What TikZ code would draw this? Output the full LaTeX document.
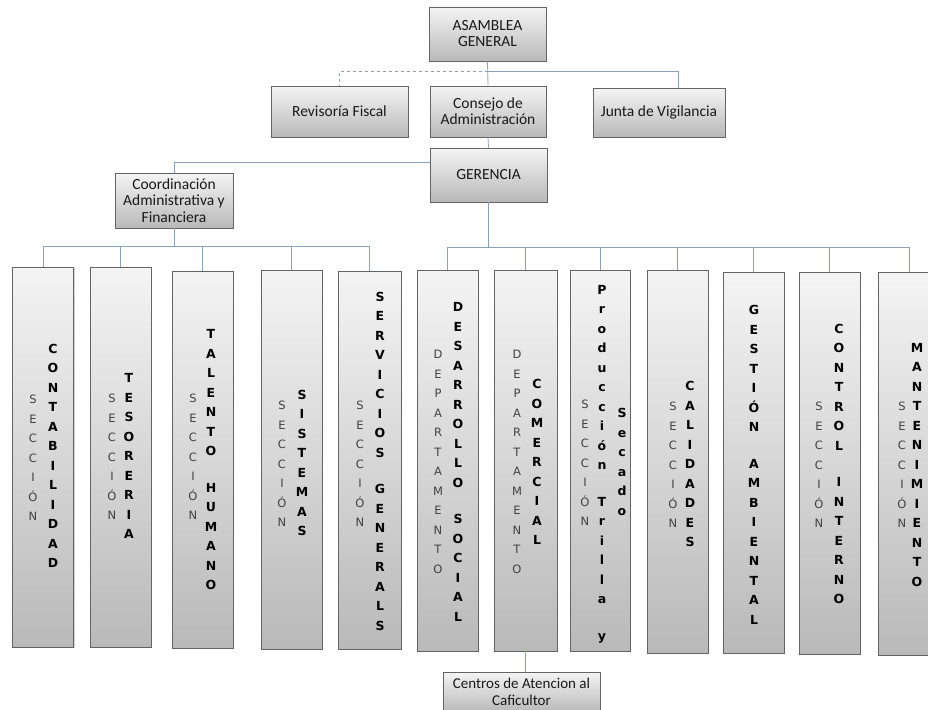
\documentclass[tikz,border=0pt]{standalone}
\usepackage{fontspec}
\setmainfont{Carlito}
\newfontfamily\stackfont{DejaVu Sans}
\usetikzlibrary{shadows}

\definecolor{linkc}{RGB}{140,160,182}
\definecolor{boxedge}{RGB}{100,100,100}
\definecolor{boxtop}{RGB}{244,244,244}
\definecolor{boxbot}{RGB}{185,185,185}
\definecolor{secgray}{RGB}{65,65,65}

% stacked words, one letter per line
\newcommand\secstack{S\\E\\C\\C\\I\\Ó\\N}
\newcommand\depstack{D\\E\\P\\A\\R\\T\\A\\M\\E\\N\\T\\O}
\newcommand\gapline{\\[17pt]}

\begin{document}
\begin{tikzpicture}[x=1pt,y=-1pt,
  link/.style={draw=linkc, line width=0.8pt},
  unitbox/.style={draw=boxedge, line width=0.9pt, top color=boxtop, bottom color=boxbot,
    drop shadow={shadow xshift=1.2pt, shadow yshift=-1.2pt, opacity=0.35},
    inner sep=1pt, align=center, text=black!90, font=\fontsize{15.5}{16}\selectfont},
  tallbox/.style={unitbox, minimum width=61pt},
  secstack/.style={align=center, inner sep=0pt, text=secgray,
    font=\stackfont\fontsize{11.5}{19.5}\selectfont},
  namestack/.style={align=center, inner sep=0pt, text=black,
    font=\stackfont\bfseries\fontsize{12.5}{19.5}\selectfont},
]
\useasboundingbox (0,0) rectangle (928,709);
\fill[white] (0,0) rectangle (928,709);
\clip (0,0) rectangle (928,709);

% ---- upper levels
\node[unitbox, minimum width=117pt, minimum height=54pt] (asm) at (487.5,34) {ASAMBLEA\\GENERAL};
\node[unitbox, minimum width=137pt, minimum height=51pt] (rev) at (339.5,111.5) {Revisoría Fiscal};
\node[unitbox, minimum width=116pt, minimum height=51pt] (cons) at (488,111.5) {Consejo de\\Administración};
\node[unitbox, minimum width=132pt, minimum height=49pt] (junta) at (659,112.5) {Junta de Vigilancia};
\node[unitbox, minimum width=117pt, minimum height=54pt] (ger) at (488.5,175) {GERENCIA};
\node[unitbox, minimum width=118pt, minimum height=55pt, font=\fontsize{15.5}{16.5}\selectfont] (coord) at (174,200.5) {Coordinación\\Administrativa y\\Financiera};

% ---- sections and departments
\node[tallbox, minimum height=380pt] (s1) at (43,457) {};
\node[tallbox, minimum height=380pt] (s2) at (120.5,457) {};
\node[tallbox, minimum height=377pt] (s3) at (202.5,459.5) {};
\node[tallbox, minimum height=379pt] (s4) at (291.5,459.5) {};
\node[tallbox, minimum width=63pt, minimum height=378pt] (s5) at (369.5,460) {};
\node[tallbox, minimum height=381pt] (s6) at (447.5,460.5) {};
\node[tallbox, minimum width=63pt, minimum height=381pt] (s7) at (525.5,460.5) {};
\node[tallbox, minimum width=60pt, minimum height=381pt] (s8) at (600,460.5) {};
\node[tallbox, minimum height=383pt] (s9) at (677.5,461.5) {};
\node[tallbox, minimum height=381pt] (s10) at (753.5,462.5) {};
\node[tallbox, minimum height=382pt] (s11) at (829.5,463) {};
\node[tallbox, minimum width=62pt, minimum height=383pt] (s12) at (909,463.5) {};

\node[unitbox, minimum width=157pt, minimum height=40pt, font=\fontsize{15}{17}\selectfont] (cent) at (521.5,692) {Centros de Atencion al\\Caficultor};

% ---- connectors
\coordinate (topbus) at (488,71);
\coordinate (jdrop) at ([xshift=19pt]junta.north);
\draw[link] (asm.south) -- (cons.north);
\draw[link, dashed] (topbus) -- (rev.north |- topbus) -- (rev.north);
\draw[link] (topbus) -- (jdrop |- topbus) -- (jdrop);
\draw[link] (cons.south) -- (ger.north);
\draw[link] ([yshift=13pt]ger.west) -| (coord.north);

\coordinate (lbus) at (175,246);
\draw[link] (coord.south) -- (coord.south |- lbus);
\draw[link] (s1.north) |- (s5.north |- lbus) -- (s5.north);
\foreach \s in {s2,s3,s4} \draw[link] (\s.north) -- (\s.north |- lbus);

\coordinate (rbus) at (489,247);
\draw[link] (ger.south) -- (ger.south |- rbus);
\draw[link] (s6.north) |- (s12.north |- rbus) -- (s12.north);
\foreach \s in {s7,s8,s9,s10,s11} \draw[link] (\s.north) -- (\s.north |- rbus);

\draw[link] (s7.south) -- (s7.south |- cent.north);

% ---- stacked labels
\node[secstack] (l1a) at (33,458) {\secstack};
\node[namestack] (l1b) at (53,456) {C\\O\\N\\T\\A\\B\\I\\L\\I\\D\\A\\D};

\node[secstack] (l2a) at (112,457) {\secstack};
\node[namestack] (l2b) at (129,456) {T\\E\\S\\O\\R\\E\\R\\I\\A};

\node[secstack] (l3a) at (193,457) {\secstack};
\node[namestack] (l3b) at (211,460) {T\\A\\L\\E\\N\\T\\O\gapline H\\U\\M\\A\\N\\O};

\node[secstack] (l4a) at (282,464) {\secstack};
\node[namestack] (l4b) at (302,463) {S\\I\\S\\T\\E\\M\\A\\S};

\node[secstack] (l5a) at (360,464) {\secstack};
\node[namestack] (l5b) at (380,461) {S\\E\\R\\V\\I\\C\\I\\O\\S\gapline G\\E\\N\\E\\R\\A\\L\\S};

\node[secstack] (l6a) at (438,462) {\depstack};
\node[namestack] (l6b) at (458,462) {D\\E\\S\\A\\R\\R\\O\\L\\L\\O\gapline S\\O\\C\\I\\A\\L};

\node[secstack] (l7a) at (517,462) {\depstack};
\node[namestack] (l7b) at (537,462) {C\\O\\M\\E\\R\\C\\I\\A\\L};

\node[secstack] (l8a) at (585,463) {\secstack};
\node[namestack] (l8b) at (602,464) {P\\r\\o\\d\\u\\c\\c\\i\\ó\\n\gapline T\\r\\i\\l\\l\\a\gapline y};
\node[namestack] (l8c) at (622,462) {S\\e\\c\\a\\d\\o};

\node[secstack] (l9a) at (673,465) {\secstack};
\node[namestack] (l9b) at (690,464) {C\\A\\L\\I\\D\\A\\D\\E\\S};

\node[namestack] (l10b) at (754,465) {G\\E\\S\\T\\I\\Ó\\N\gapline A\\M\\B\\I\\E\\N\\T\\A\\L};

\node[secstack] (l11a) at (819,465) {\secstack};
\node[namestack] (l11b) at (839,464) {C\\O\\N\\T\\R\\O\\L\gapline I\\N\\T\\E\\R\\N\\O};

\node[secstack] (l12a) at (902,465) {\secstack};
\node[namestack] (l12b) at (917,465) {M\\A\\N\\T\\E\\N\\I\\M\\I\\E\\N\\T\\O};
\end{tikzpicture}
\end{document}
